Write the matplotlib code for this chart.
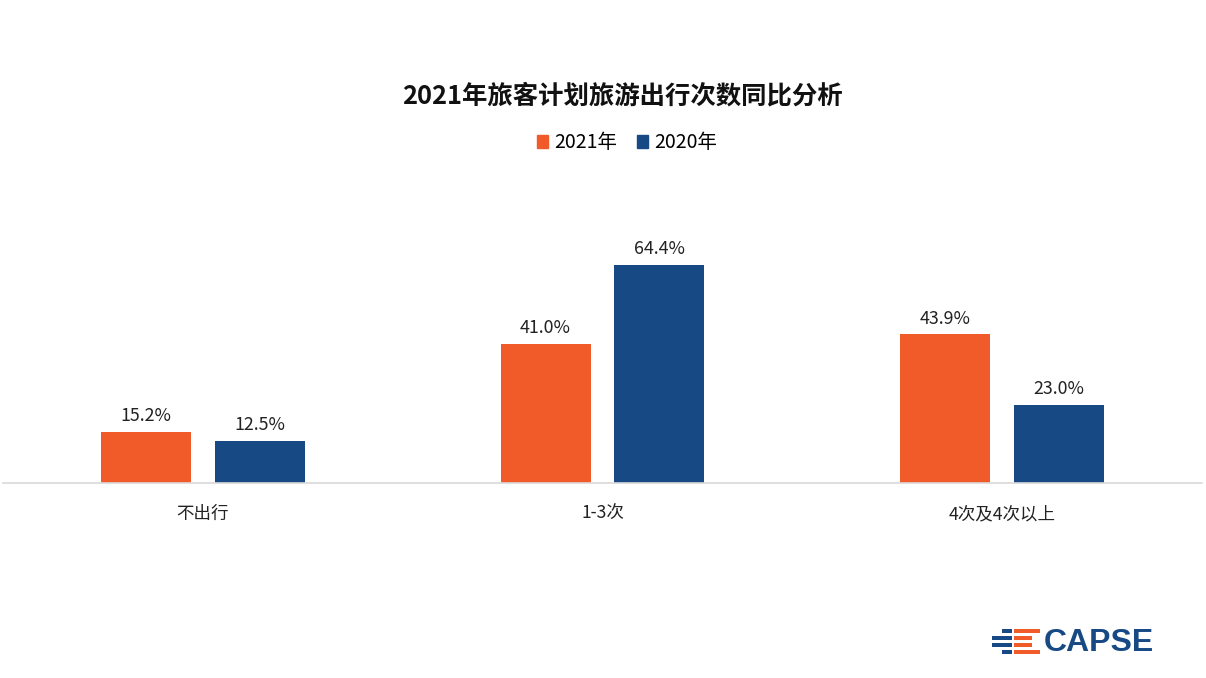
import matplotlib
matplotlib.use("Agg")
import matplotlib.pyplot as plt
from matplotlib.patches import Rectangle
import numpy as np

plt.rcParams['font.family'] = ['Noto Sans CJK SC', 'DejaVu Sans']

categories = ["不出行", "1-3次", "4次及4次以上"]
series_names = ["2021年", "2020年"]
values_2021 = [15.2, 41.0, 43.9]
values_2020 = [12.5, 64.4, 23.0]
colors = ["#F15A29", "#174A85"]

W, H = 1206, 678
fig = plt.figure(figsize=(W / 100, H / 100), dpi=100)
ax = fig.add_axes([3 / W, (H - 483) / H, 1199 / W, 237 / H])

x = np.arange(len(categories))
bw = 0.225
off = 0.1425
for vals, sign, c, name in [(values_2021, -1, colors[0], series_names[0]),
                            (values_2020, 1, colors[1], series_names[1])]:
    bars = ax.bar(x + sign * off, vals, width=bw, color=c, label=name)
    for b, v in zip(bars, vals):
        ax.text(b.get_x() + b.get_width() / 2, v + 2.0, f"{v:.1f}%",
                ha="center", va="bottom", fontsize=12.8, color="#222222")

ax.set_xlim(-0.5, 2.5)
ax.set_ylim(0, 70)
ax.set_yticks([])
ax.set_xticks(x)
ax.set_xticklabels(categories, fontsize=12.6, color="#222222")
ax.tick_params(axis="x", length=0, pad=16)
for s in ["top", "right", "left"]:
    ax.spines[s].set_visible(False)
ax.spines["bottom"].set_color("#D9D9D9")
ax.spines["bottom"].set_linewidth(1.2)

fig.text(622 / W, (H - 96) / H, "2021年旅客计划旅游出行次数同比分析",
         ha="center", va="center", fontsize=18.3, fontweight="bold", color="#111111")

handles = [Rectangle((0, 0), 1, 1, color=c) for c in colors]
fig.legend(handles, series_names, loc="center", bbox_to_anchor=(627 / W, (H - 143) / H),
           ncol=2, frameon=False, fontsize=14, handlelength=0.6, handleheight=0.6,
           handletextpad=0.3, columnspacing=1.0)

# CAPSE logo (pixel coordinates)
lax = fig.add_axes([0, 0, 1, 1])
lax.set_xlim(0, W)
lax.set_ylim(H, 0)
lax.axis("off")
rows = [(631, 1002, 1040), (638, 992, 1032), (645, 992, 1032), (652, 1002, 1040)]
for yy, bx, oe in rows:
    lax.add_patch(Rectangle((bx, yy - 1.8), 1012 - bx, 3.6, color="#174A85", lw=0))
    lax.add_patch(Rectangle((1014, yy - 1.8), oe - 1014, 3.6, color="#F15A29", lw=0))
lax.text(1044, 643, "CAPSE", ha="left", va="center", fontsize=23, fontweight="bold",
         color="#174A85", family=["Liberation Sans"])

fig.savefig("out.png", dpi=100, facecolor="white")
